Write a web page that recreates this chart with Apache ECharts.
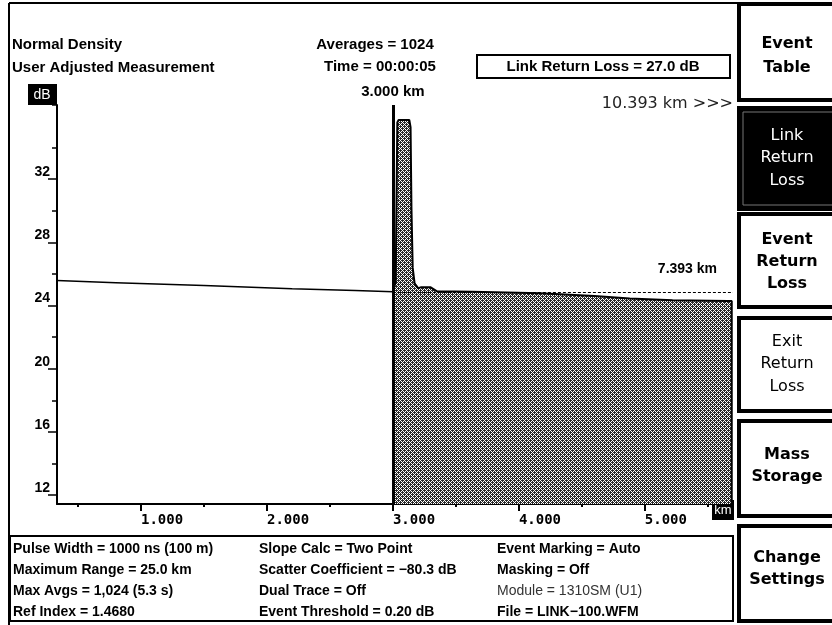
<!DOCTYPE html>
<html>
<head>
<meta charset="utf-8">
<script src="https://cdn.jsdelivr.net/npm/echarts@6/dist/echarts.min.js"></script>
<style>
html,body{margin:0;padding:0;background:#fff;}
#chart{width:832px;height:625px;}
</style>
</head>
<body>
<div id="chart"></div>
<script>
// ---- data ----
const xMin = 0.333, xMax = 5.70;          // km
const yMin = 11.43, yMax = 36.7;          // dB
const xMajorTicks = [1, 2, 3, 4, 5];
const xMinorTicks = [0.5, 1.5, 2.5, 3.5, 4.5, 5.5];
const yMajorTicks = [12, 16, 20, 24, 28, 32];
const yMinorTicks = [14, 18, 22, 26, 30, 34];

// backscatter trace before the cursor
const distBefore = [0.333, 0.8, 1.5, 2.2, 2.7, 3.0];
const levelBefore = [25.58, 25.45, 25.27, 25.07, 24.95, 24.87];

// trace after the cursor (reflection peak + fibre)
const distAfter = [3.0, 3.022, 3.035, 3.045, 3.13, 3.14, 3.147, 3.157, 3.172, 3.2, 3.22, 3.3, 3.35, 3.63, 4.17, 4.6, 4.88, 5.22, 5.66, 5.69, 5.69];
const levelAfter = [24.87, 25.5, 35.6, 35.75, 35.75, 35.3, 30.2, 26.4, 25.4, 25.1, 25.15, 25.15, 24.9, 24.87, 24.77, 24.6, 24.45, 24.34, 24.28, 24.28, 11.43];

const cursorKm = 3.0;
const refLevel = 24.85;
const cursorLabel = '3.000 km';
const refLabel = '7.393 km';

const headerLeft = ['Normal Density', 'User Adjusted Measurement'];
const headerMid = ['Averages = 1024', 'Time = 00:00:05'];
const linkBox = 'Link Return Loss = 27.0 dB';
const rangeText = '10.393 km >>>';

const infoCol1 = ['Pulse Width = 1000 ns (100 m)', 'Maximum Range = 25.0 km', 'Max Avgs = 1,024 (5.3 s)', 'Ref Index = 1.4680'];
const infoCol2 = ['Slope Calc = Two Point', 'Scatter Coefficient = \u221280.3 dB', 'Dual Trace = Off', 'Event Threshold = 0.20 dB'];
const infoCol3 = ['Event Marking = Auto', 'Masking = Off', 'Module = 1310SM (U1)', 'File = LINK\u2212100.WFM'];

const buttons = [
  {lines: ['Event', 'Table'], selected: false, bold: true},
  {lines: ['Link', 'Return', 'Loss'], selected: true, bold: false},
  {lines: ['Event', 'Return', 'Loss'], selected: false, bold: true},
  {lines: ['Exit', 'Return', 'Loss'], selected: false, bold: false},
  {lines: ['Mass', 'Storage'], selected: false, bold: true},
  {lines: ['Change', 'Settings'], selected: false, bold: true}
];

// ---- build ----
function makePattern() {
  const c = document.createElement('canvas');
  c.width = 4; c.height = 4;
  const g = c.getContext('2d');
  g.fillStyle = '#2a2a2a';
  g.fillRect(0, 0, 4, 4);
  g.fillStyle = '#ffffff';
  for (let y = 0; y < 4; y++) for (let x = 0; x < 4; x++) {
    if ((x + y) % 4 === 0 || (x - y + 4) % 4 === 0) g.fillRect(x, y, 1, 1);
  }
  return c;
}

const zip = (a, b) => a.map((v, i) => [v, b[i]]);
const SANS = '"Liberation Sans", Arial, sans-serif';

const chart = echarts.init(document.getElementById('chart'), null, {renderer: 'canvas'});

const graphics = [];
// outer frame
graphics.push({type: 'line', shape: {x1: 9, y1: 3, x2: 832, y2: 3}, style: {stroke: '#000', lineWidth: 2}});
graphics.push({type: 'line', shape: {x1: 9, y1: 3, x2: 9, y2: 625}, style: {stroke: '#000', lineWidth: 2}});
// header
headerLeft.forEach((t, i) => graphics.push({type: 'text', x: 12, y: 45 + i * 23, style: {text: t, font: 'bold 15px ' + SANS, fill: '#000', verticalAlign: 'middle'}}));
headerMid.forEach((t, i) => graphics.push({type: 'text', x: 375 + (i ? 5 : 0), y: 45 + i * 22, style: {text: t, font: 'bold 15px ' + SANS, fill: '#000', align: 'center', verticalAlign: 'middle'}}));
graphics.push({type: 'rect', shape: {x: 477, y: 55, width: 253, height: 23}, style: {fill: '#fff', stroke: '#000', lineWidth: 2}});
graphics.push({type: 'text', x: 603, y: 67, style: {text: linkBox, font: 'bold 15px ' + SANS, fill: '#000', align: 'center', verticalAlign: 'middle'}});
graphics.push({type: 'text', x: 733, y: 104, style: {text: rangeText, font: '16px "DejaVu Sans", sans-serif', fill: '#222', align: 'right', verticalAlign: 'middle'}});
// dB and km boxes
graphics.push({type: 'rect', shape: {x: 28, y: 84, width: 29, height: 21}, style: {fill: '#000'}});
graphics.push({type: 'text', x: 42, y: 95, style: {text: 'dB', font: '14px ' + SANS, fill: '#fff', align: 'center', verticalAlign: 'middle'}});
graphics.push({type: 'rect', shape: {x: 712, y: 500, width: 22, height: 20}, style: {fill: '#000'}});
graphics.push({type: 'text', x: 723, y: 510, style: {text: 'km', font: '13px ' + SANS, fill: '#fff', align: 'center', verticalAlign: 'middle'}});
// info box
graphics.push({type: 'rect', shape: {x: 10, y: 536, width: 723, height: 85}, style: {fill: 'none', stroke: '#000', lineWidth: 2}});
[infoCol1, infoCol2, infoCol3].forEach((col, c) => {
  const x = [13, 259, 497][c];
  col.forEach((t, r) => {
    const light = (c === 2 && r === 2);
    graphics.push({type: 'text', x: x, y: 549 + r * 21, style: {text: t, font: (light ? '' : 'bold ') + '14px ' + SANS, fill: light ? '#333' : '#000', verticalAlign: 'middle'}});
  });
});
// right button column
const btnRects = [[4, 96], [108, 101], [214, 93], [318, 93], [421, 95], [526, 95]];
const btnLineY = [[44, 68], [136, 158, 181], [240, 262, 284], [342, 364, 387], [455, 477], [558, 580]];
buttons.forEach((b, i) => {
  const [y, h] = btnRects[i];
  graphics.push({type: 'rect', shape: {x: 739, y: y, width: 100, height: h}, style: {fill: b.selected ? '#000' : '#fff', stroke: '#000', lineWidth: 4}});
  if (b.selected) graphics.push({type: 'rect', shape: {x: 743, y: y + 4, width: 100, height: h - 8}, style: {fill: 'none', stroke: '#777', lineWidth: 1}});
  b.lines.forEach((t, j) => graphics.push({type: 'text', x: 787, y: btnLineY[i][j], style: {text: t, font: (b.bold ? 'bold ' : '') + '16px "DejaVu Sans", sans-serif', fill: b.selected ? '#fff' : '#000', align: 'center', verticalAlign: 'middle'}}));
});

const axisLineStyle = {color: '#000', width: 2};
const option = {
  backgroundColor: '#fff',
  animation: false,
  grid: {left: 57, top: 105, right: 99, bottom: 121, containLabel: false},
  xAxis: [
    {type: 'value', min: xMin, max: xMax, position: 'bottom',
     axisLine: {show: true, onZero: false, lineStyle: axisLineStyle},
     axisTick: {show: true, customValues: xMajorTicks, length: 7, lineStyle: {color: '#000', width: 2}},
     axisLabel: {show: true, customValues: xMajorTicks, formatter: v => v.toFixed(3), align: 'left', margin: 9,
                 fontFamily: '"DejaVu Sans Mono", monospace', fontWeight: 'bold', fontSize: 14, color: '#000'},
     splitLine: {show: false}},
    {type: 'value', min: xMin, max: xMax, position: 'bottom', offset: 0,
     axisLine: {show: false, onZero: false},
     axisTick: {show: true, customValues: xMinorTicks, length: 3, lineStyle: {color: '#000', width: 2}},
     axisLabel: {show: false}, splitLine: {show: false}}
  ],
  yAxis: [
    {type: 'value', min: yMin, max: yMax, position: 'left',
     axisLine: {show: true, onZero: false, lineStyle: axisLineStyle},
     axisTick: {show: true, customValues: yMajorTicks, length: 9, lineStyle: {color: '#000', width: 1.5}},
     axisLabel: {show: true, customValues: yMajorTicks, verticalAlign: 'bottom', margin: 7,
                 fontFamily: SANS, fontWeight: 'bold', fontSize: 14, color: '#000'},
     splitLine: {show: false}},
    {type: 'value', min: yMin, max: yMax, position: 'left', offset: 0,
     axisLine: {show: false, onZero: false},
     axisTick: {show: true, customValues: yMinorTicks.concat([yMax]), length: 5, lineStyle: {color: '#000', width: 1.5}},
     axisLabel: {show: false}, splitLine: {show: false}}
  ],
  series: [
    {type: 'line', name: 'before', xAxisIndex: 0, yAxisIndex: 0, data: zip(distBefore, levelBefore),
     symbol: 'none', lineStyle: {color: '#000', width: 1.5}, silent: true},
    {type: 'line', name: 'after', xAxisIndex: 0, yAxisIndex: 0, data: zip(distAfter, levelAfter),
     symbol: 'none', lineStyle: {color: '#000', width: 2},
     areaStyle: {color: {image: makePattern(), repeat: 'repeat'}, opacity: 1, origin: 'start'},
     silent: true,
     markLine: {
       silent: true, symbol: 'none', animation: false,
       data: [
         [{coord: [cursorKm, yMin], lineStyle: {color: '#000', width: 3, type: 'solid'},
           label: {show: true, position: 'end', formatter: cursorLabel, distance: 6, color: '#000', fontWeight: 'bold', fontSize: 15, fontFamily: SANS}},
          {coord: [cursorKm, yMax]}],
         [{coord: [cursorKm, refLevel], lineStyle: {color: '#000', width: 1, type: [3, 2]},
           label: {show: true, position: 'insideEndTop', formatter: refLabel, distance: 16, color: '#000', fontWeight: 'bold', fontSize: 14, fontFamily: SANS}},
          {coord: [xMax, refLevel]}]
       ]
     }}
  ],
  graphic: graphics
};
chart.setOption(option);
</script>
</body>
</html>
